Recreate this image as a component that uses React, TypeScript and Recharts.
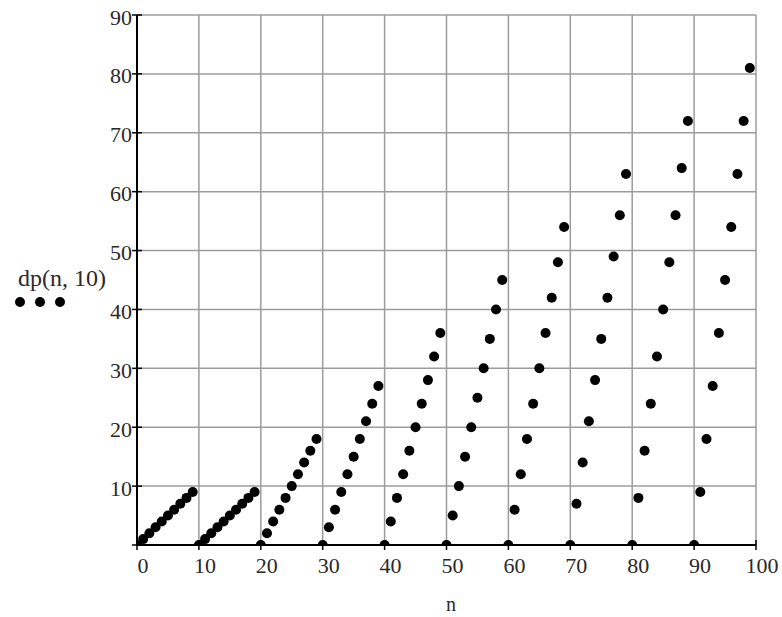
import React from "react";
import { ScatterChart, Scatter, XAxis, YAxis, CartesianGrid } from "recharts";

// dp(n, 10) for n = 0..99, one row per decade
const DP_VALUES: number[] = [
  0, 1, 2, 3, 4, 5, 6, 7, 8, 9,
  0, 1, 2, 3, 4, 5, 6, 7, 8, 9,
  0, 2, 4, 6, 8, 10, 12, 14, 16, 18,
  0, 3, 6, 9, 12, 15, 18, 21, 24, 27,
  0, 4, 8, 12, 16, 20, 24, 28, 32, 36,
  0, 5, 10, 15, 20, 25, 30, 35, 40, 45,
  0, 6, 12, 18, 24, 30, 36, 42, 48, 54,
  0, 7, 14, 21, 28, 35, 42, 49, 56, 63,
  0, 8, 16, 24, 32, 40, 48, 56, 64, 72,
  0, 9, 18, 27, 36, 45, 54, 63, 72, 81,
];

const X_TICKS = [0, 10, 20, 30, 40, 50, 60, 70, 80, 90, 100];
const Y_TICKS = [0, 10, 20, 30, 40, 50, 60, 70, 80, 90];

const SERIES_LABEL = "dp(n, 10)";
const X_LABEL = "n";

const FONT = "'Liberation Serif', 'Times New Roman', serif";
const TEXT_COLOR = "#2a2a2a";

const data = DP_VALUES.map((v, i) => ({ n: i, dp: v }));

function XTick(props: any) {
  const { x, y, payload } = props;
  return (
    <g>
      <line x1={x} x2={x} y1={y - 5} y2={y + 5} stroke="#000" strokeWidth={1.5} />
      <text x={x + 6} y={y + 20} textAnchor="middle" dominantBaseline="central"
        fontFamily={FONT} fontSize={22} fill={TEXT_COLOR}>
        {payload.value}
      </text>
    </g>
  );
}

function YTick(props: any) {
  const { x, y, payload } = props;
  return (
    <g>
      <line x1={x - 5} x2={x + 5} y1={y} y2={y} stroke="#000" strokeWidth={1.5} />
      {payload.value !== 0 && (
        <text x={x - 5} y={y + 2} textAnchor="end" dominantBaseline="central"
          fontFamily={FONT} fontSize={22} fill={TEXT_COLOR}>
          {payload.value}
        </text>
      )}
    </g>
  );
}

const Dot = (p: any) => <circle cx={p.cx} cy={p.cy} r={5} fill="#000" />;

export default function App() {
  return (
    <div style={{ position: "absolute", left: 0, top: 0, width: 782, height: 617, background: "#fff" }}>
      <ScatterChart width={782} height={617} margin={{ top: 15, right: 26, bottom: 0, left: 0 }}>
        <CartesianGrid stroke="#9c9c9c" strokeWidth={1.5} horizontalValues={Y_TICKS} verticalValues={X_TICKS} />
        <XAxis
          type="number"
          dataKey="n"
          domain={[0, 100]}
          ticks={X_TICKS}
          allowDataOverflow
          height={72}
          tickSize={0}
          tickMargin={0}
          tickLine={false}
          axisLine={{ stroke: "#000", strokeWidth: 2 }}
          tick={<XTick />}
          interval={0}
        />
        <YAxis
          type="number"
          dataKey="dp"
          domain={[0, 90]}
          ticks={Y_TICKS}
          allowDataOverflow
          width={137}
          tickSize={0}
          tickMargin={0}
          tickLine={false}
          axisLine={{ stroke: "#000", strokeWidth: 2 }}
          tick={<YTick />}
          interval={0}
        />
        <Scatter data={data} shape={Dot} isAnimationActive={false} />
      </ScatterChart>
      <svg width={782} height={617} style={{ position: "absolute", left: 0, top: 0, pointerEvents: "none" }}>
        <text x={18} y={286} fontFamily={FONT} fontSize={24} fill={TEXT_COLOR}>{SERIES_LABEL}</text>
        <circle cx={20} cy={302} r={5} fill="#000" />
        <circle cx={40} cy={302} r={5} fill="#000" />
        <circle cx={60} cy={302} r={5} fill="#000" />
        <text x={451} y={611} textAnchor="middle"
          fontFamily={FONT} fontSize={20} fill={TEXT_COLOR}>{X_LABEL}</text>
      </svg>
    </div>
  );
}
